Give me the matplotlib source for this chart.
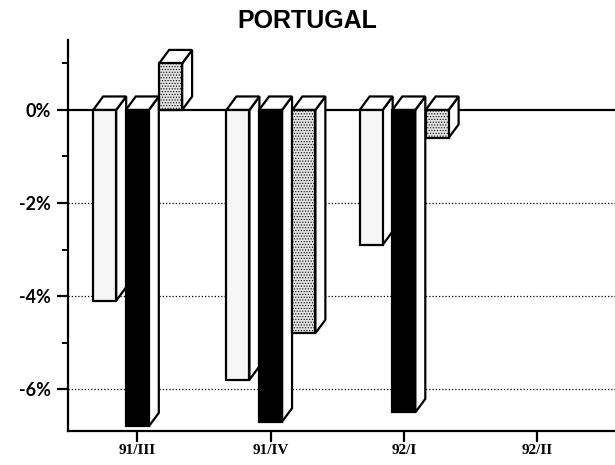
import numpy as np
import matplotlib
matplotlib.use("Agg")
import matplotlib.pyplot as plt
from matplotlib.patches import Polygon, Rectangle

quarters = ["91/III", "91/IV", "92/I", "92/II"]
# three series per quarter, % change (92/II has no data yet)
series_a = [-4.1, -5.8, -2.9, np.nan]
series_b = [-6.8, -6.7, -6.5, np.nan]
series_c = [1.0, -4.8, -0.6, np.nan]

plt.rcParams["hatch.color"] = "#9a9a9a"
plt.rcParams["hatch.linewidth"] = 0.5

fig = plt.figure(figsize=(6.15, 4.65), dpi=100)
ax = fig.add_axes([0.1106, 0.0731, 0.8894, 0.841])
ax.set_xlim(-0.52, 3.585)
ax.set_ylim(-6.9, 1.505)

# pixel scale of the axes, used to turn the 3d depth into data units
px_x = (3.585 + 0.52) / (615 * 0.8894)
px_y = (1.505 + 6.9) / (465 * 0.841)
dx, dy = 10 * px_x, 13.5 * px_y
width = 23 * px_x

styles = [
    dict(face="#f6f6f6", hatch=None),
    dict(face="black", hatch=None),
    dict(face="#e2e2e2", hatch="......"),
]
offsets = [-0.245, 0.0, 0.25]


def bar3d(x_c, v, face, hatch):
    x0, x1 = x_c - width / 2, x_c + width / 2
    top, bot = max(0, v), min(0, v)
    kw = dict(edgecolor="black", linewidth=1.6, joinstyle="miter", zorder=3)
    side = Polygon([(x1, bot), (x1 + dx, bot + dy), (x1 + dx, top + dy), (x1, top)],
                   facecolor="white", **kw)
    lid = Polygon([(x0, top), (x0 + dx, top + dy), (x1 + dx, top + dy), (x1, top)],
                  facecolor="white", **kw)
    front = Rectangle((x0, bot), width, top - bot, facecolor=face, hatch=hatch, **kw)
    for p in (side, lid, front):
        ax.add_patch(p)


x = np.arange(len(quarters))
for vals, st, off in zip([series_a, series_b, series_c], styles, offsets):
    for xi, v in zip(x, vals):
        if np.isnan(v):
            continue
        bar3d(xi + off, v, st["face"], st["hatch"])

# grid and zero line
for g in [-2, -4, -6]:
    ax.axhline(g, color="black", linestyle=(0, (1, 1.6)), linewidth=0.9, zorder=1)
ax.axhline(0, color="black", linewidth=1.6, zorder=2)

for s in ["top", "right"]:
    ax.spines[s].set_visible(False)
ax.spines["left"].set_linewidth(1.6)
ax.spines["bottom"].set_linewidth(1.6)

ax.set_yticks([0, -2, -4, -6])
ax.set_yticklabels(["0%", "-2%", "-4%", "-6%"], fontfamily="Lato",
                   fontweight="bold", fontsize=13)
ax.set_yticks([1, -1, -3, -5], minor=True)
ax.tick_params(axis="y", which="major", length=8, width=1.6, pad=4)
ax.tick_params(axis="y", which="minor", length=4, width=1.4)

ax.set_xticks(x)
ax.set_xticklabels(quarters, fontfamily="Liberation Serif", fontweight="bold",
                   fontsize=11)
ax.tick_params(axis="x", which="major", length=8, width=1.6, pad=1)

fig.text(0.5, 0.955, "PORTUGAL", ha="center", va="center",
         fontfamily="Liberation Sans", fontweight="bold", fontsize=18)

fig.savefig("out.png", dpi=100)
